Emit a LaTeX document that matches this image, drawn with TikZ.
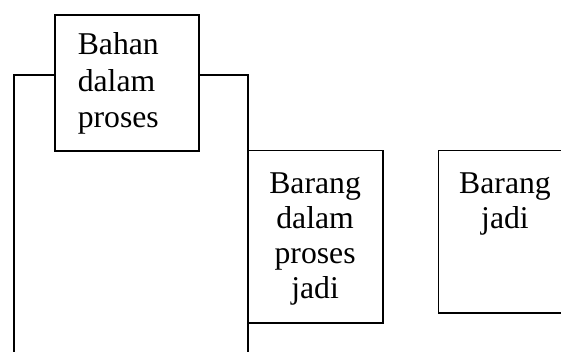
\documentclass[tikz,border=0pt]{standalone}
\usepackage{fontspec}
\setmainfont{Liberation Serif}
\begin{document}
\begin{tikzpicture}[x=1pt,y=-1pt,
  line width=1.6pt,
  frame/.style={draw,line width=1.6pt,inner sep=0pt,minimum width=#1},
  lbl/.style={font=\fontsize{31.7}{35.5}\selectfont,inner sep=0pt,anchor=base},
  conn/.style={draw,line width=1.6pt}]
\useasboundingbox (0,0) rectangle (561,352);
% boxes
\node[frame=144pt,minimum height=136pt] (b1) at (127,83) {};
\node[frame=135.2pt,minimum height=172pt] (b2) at (315.1,236.7) {};
% text
\node[lbl,anchor=base west] (t1a) at (77,55) {Bahan};
\node[lbl,anchor=base west] (t1b) at (77,91.5) {dalam};
\node[lbl,anchor=base west] (t1c) at (77,128) {proses};
\node[lbl] (t2a) at (315.1,193.3) {Barang};
\node[lbl] (t2b) at (315.1,228.3) {dalam};
\node[lbl] (t2c) at (315.1,263.3) {proses};
\node[lbl] (t2d) at (315.1,298.3) {jadi};
\node[lbl] (t3a) at (505,193.3) {Barang};
\node[lbl] (t3b) at (505,228.3) {jadi};
% open box for Barang jadi
\coordinate (c3a) at (561,150.7);
\coordinate (c3b) at (438.3,150.7);
\coordinate (c3c) at (438.3,312.7);
\coordinate (c3d) at (561,312.7);
\draw[line width=1.6pt] (c3a) -- (c3b) -- (c3c) -- (c3d);
% connectors
\coordinate (lw) at (14,75);
\coordinate (lb) at (14,352);
\coordinate (re) at (248,75);
\coordinate (rb) at (248,352);
\draw[conn] (b1.west |- lw) -- (lw) -- (lb);
\draw[conn] (b1.east |- re) -- (re) -- (rb);
\end{tikzpicture}
\end{document}
